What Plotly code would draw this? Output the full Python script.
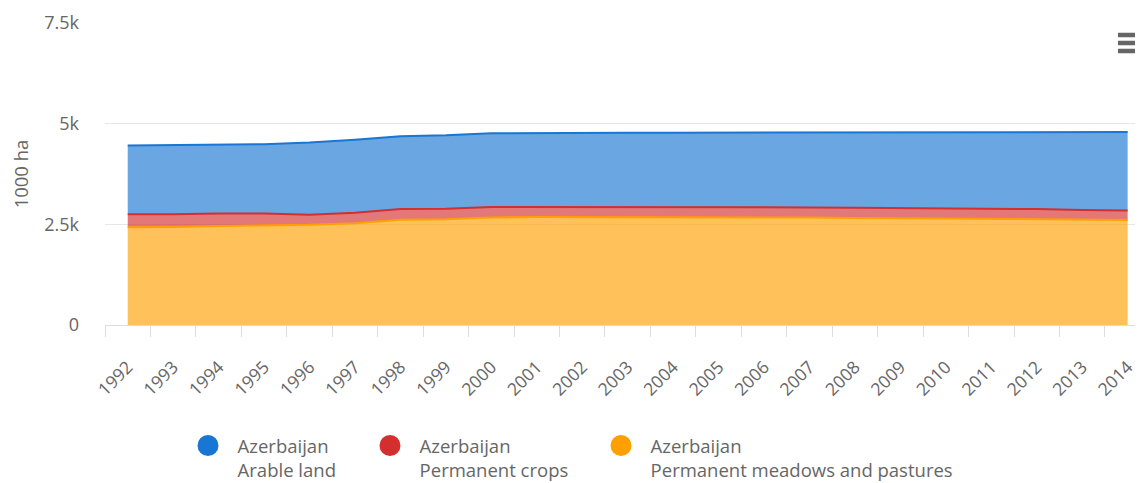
import plotly.graph_objects as go

years = [str(y) for y in range(1992, 2015)]
# thousand ha
meadows = [2430, 2435, 2460, 2470, 2490, 2530, 2615, 2625, 2670, 2680, 2680, 2685,
           2685, 2685, 2685, 2670, 2660, 2650, 2650, 2645, 2630, 2610, 2610]
perm_crops = [320, 315, 310, 300, 250, 260, 265, 265, 260, 250, 250, 250,
              250, 250, 250, 250, 250, 250, 250, 250, 250, 245, 235]
arable = [1710, 1720, 1720, 1720, 1790, 1810, 1810, 1820, 1830, 1840, 1845, 1840,
          1840, 1840, 1840, 1855, 1865, 1875, 1880, 1890, 1905, 1935, 1945]

series = [
    ("Azerbaijan<br>Permanent meadows and pastures", meadows, "#FFA000", "rgba(255,160,0,0.65)", "legend3"),
    ("Azerbaijan<br>Permanent crops", perm_crops, "#D32F2F", "rgba(211,47,47,0.65)", "legend2"),
    ("Azerbaijan<br>Arable land", arable, "#1976D2", "rgba(25,118,210,0.65)", "legend"),
]

ytick_vals = [0, 2500, 5000, 7500]
ytick_text = ["0", "2.5k", "5k", "7.5k"]

FONT = "Open Sans, Noto Sans, sans-serif"
TXT = "#666666"
PAD = "\u00a0\u00a0"

fig = go.Figure()
for name, vals, lc, fc, _ in series:
    fig.add_trace(go.Scatter(
        x=years, y=vals, name=name.replace("<br>", " "), mode="lines", stackgroup="one",
        line=dict(color=lc, width=2), fillcolor=fc, showlegend=False,
        hoverinfo="x+y+name"))

for name, vals, lc, fc, lg in series:
    legend_name = "<br>".join(PAD + part for part in name.split("<br>"))
    fig.add_trace(go.Scatter(
        x=[None], y=[None], name=legend_name, mode="markers",
        marker=dict(color=lc, size=16, line=dict(color=lc, width=5)),
        legend=lg, showlegend=True))

# page body has an 8px margin, so the figure is laid out 8px smaller
W, H = 1135, 475
L, R, T, B = 97, 0, 15, 158
pw = W - L - R
ph = H - T - B

def px_x(p):
    return (p - L) / pw

def px_y(p):
    return (H - B - p) / ph

leg_common = dict(orientation="v", xanchor="left", yanchor="top",
                  font=dict(family=FONT, size=18.5, color=TXT),
                  bgcolor="rgba(0,0,0,0)", borderwidth=0, valign="top",
                  tracegroupgap=0, itemclick=False, itemdoubleclick=False)

fig.update_layout(
    width=W, height=H,
    margin=dict(l=L, r=R, t=T, b=B, autoexpand=False),
    paper_bgcolor="white", plot_bgcolor="white",
    font=dict(family=FONT, size=17, color=TXT),
    legend=dict(x=px_x(180), y=px_y(419), **leg_common),
    legend2=dict(x=px_x(362), y=px_y(419), **leg_common),
    legend3=dict(x=px_x(593), y=px_y(419), **leg_common),
    xaxis=dict(
        type="category", range=[-0.5, -0.5 + pw / 45.45],
        tickson="boundaries", ticks="outside", ticklen=11, tickcolor="#dddddd",
        showline=True, linecolor="#dddddd", linewidth=1, showgrid=False,
        tickangle=-45, tickfont=dict(family=FONT, size=17.5, color=TXT),
        ticklabelstandoff=24, automargin=False,
    ),
    yaxis=dict(
        range=[0, 7500], tickvals=ytick_vals, ticktext=ytick_text,
        showgrid=True, gridcolor="#e6e6e6", gridwidth=1, zeroline=False,
        showline=False, ticks="", tickfont=dict(family=FONT, size=18, color=TXT),
        ticklabelstandoff=25, automargin=False,
        title=dict(text="1000 ha", font=dict(family=FONT, size=18.5, color=TXT), standoff=15),
    ),
    hovermode="x",
)

# export menu icon (decoration)
for yy in (27, 35, 43):
    fig.add_shape(type="line", xref="paper", yref="paper",
                  x0=px_x(1110), x1=px_x(1150), y0=px_y(yy), y1=px_y(yy),
                  line=dict(color="#666666", width=4.5), layer="above")

fig.write_html("out.html")
